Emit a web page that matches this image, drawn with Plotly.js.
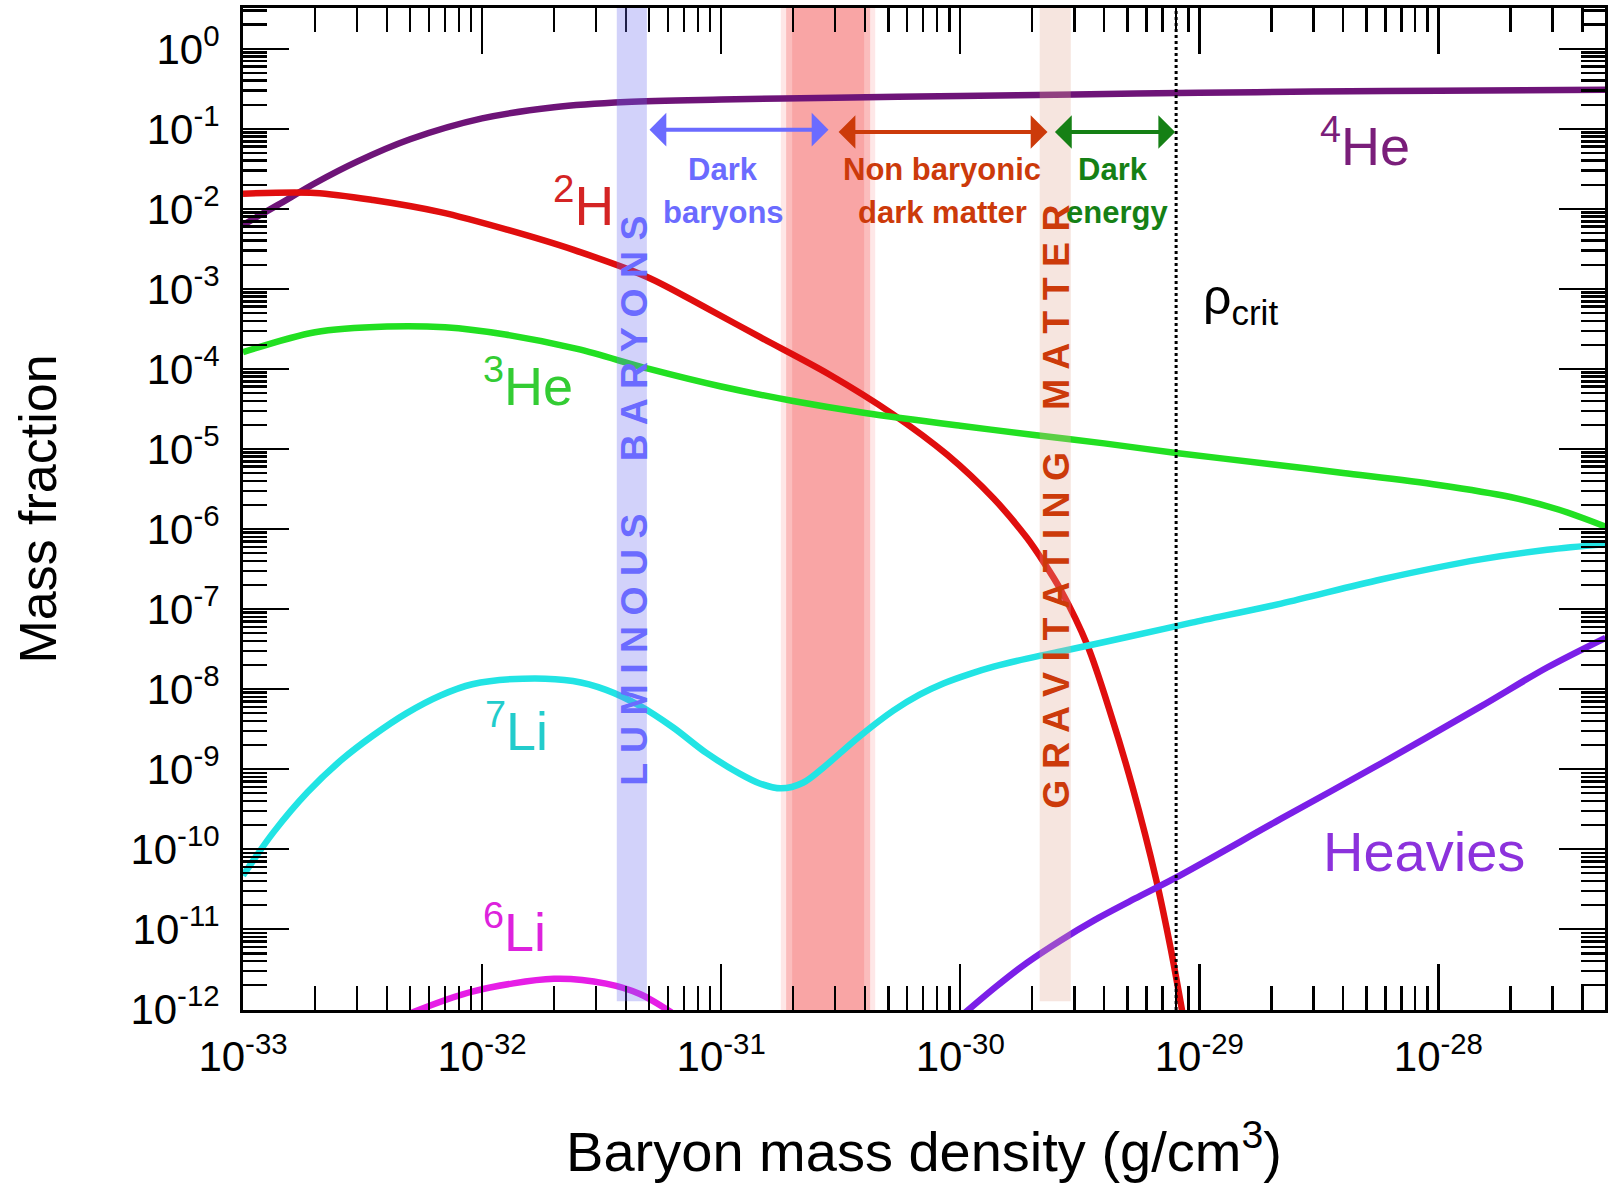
<!DOCTYPE html>
<html>
<head>
<meta charset="utf-8">
<script src="https://cdn.plot.ly/plotly-3.0.1.min.js"></script>
<style>html,body{margin:0;padding:0;background:#fff;}</style>
</head>
<body>
<div id="chart" style="width:1612px;height:1185px;"></div>
<script>
// ---------------- DATA ----------------
// Baryon mass density (g/cm^3) and mass fraction for each nuclide
const he4Rho  = [1e-33, 1.4e-33, 2e-33, 3e-33, 5e-33, 1e-32, 2e-32, 4e-32, 1e-31, 3e-31, 1e-30, 3e-30, 1e-29, 3e-29, 1e-28, 5e-28];
const he4Frac = [6.31e-3, 0.0112, 0.0209, 0.0389, 0.074, 0.135, 0.186, 0.216, 0.232, 0.245, 0.257, 0.269, 0.282, 0.292, 0.299, 0.309];

const h2Rho  = [1e-33, 2e-33, 3.5e-33, 6.7e-33, 1.27e-32, 2.4e-32, 4.9e-32, 8.7e-32, 1.45e-31, 2.8e-31, 5.2e-31, 8.8e-31, 1.38e-30, 1.9e-30, 2.24e-30, 2.63e-30, 3.4e-30, 4.27e-30, 5.25e-30, 6.6e-30, 7.6e-30, 8.5e-30];
const h2Frac = [0.0155, 0.0158, 0.0129, 9.1e-3, 5.5e-3, 3.09e-3, 1.41e-3, 5.75e-4, 2.51e-4, 8.71e-5, 2.75e-5, 8.51e-6, 2.4e-6, 7.76e-7, 3.8e-7, 1.74e-7, 3.55e-8, 4.79e-9, 6.03e-10, 4.17e-11, 5.62e-12, 9.1e-13];

const he3Rho  = [1e-33, 2e-33, 4e-33, 7e-33, 1.25e-32, 2.5e-32, 5e-32, 1e-31, 2e-31, 4e-31, 1e-30, 2e-30, 4e-30, 8e-30, 2e-29, 4e-29, 1e-28, 2e-28, 3.2e-28, 5e-28];
const he3Frac = [1.62e-4, 2.88e-4, 3.39e-4, 3.31e-4, 2.69e-4, 1.78e-4, 1.0e-4, 6.03e-5, 3.98e-5, 2.82e-5, 1.95e-5, 1.51e-5, 1.175e-5, 8.91e-6, 6.46e-6, 5.01e-6, 3.55e-6, 2.51e-6, 1.74e-6, 1.07e-6];

const li7Rho  = [1e-33, 1.34e-33, 1.86e-33, 2.57e-33, 3.5e-33, 4.84e-33, 6.7e-33, 9.1e-33, 1.48e-32, 2.4e-32, 3.3e-32, 4.57e-32, 6.3e-32, 8.7e-32, 1.2e-31, 1.45e-31, 1.78e-31, 2.2e-31, 2.75e-31, 3.8e-31, 5.25e-31, 6.76e-31, 8.5e-31, 1.1e-30, 1.38e-30, 1.9e-30, 2.63e-30, 5e-30, 9.3e-30, 2.2e-29, 5.75e-29, 1.5e-28, 2.85e-28, 5e-28];
const li7Frac = [4.68e-11, 1.62e-10, 5.13e-10, 1.29e-9, 2.63e-9, 5.01e-9, 8.32e-9, 1.15e-8, 1.35e-8, 1.26e-8, 9.77e-9, 6.17e-9, 3.31e-9, 1.58e-9, 8.71e-10, 6.61e-10, 5.75e-10, 6.76e-10, 1.12e-9, 2.57e-9, 5.37e-9, 8.51e-9, 1.175e-8, 1.55e-8, 1.905e-8, 2.4e-8, 2.95e-8, 4.47e-8, 6.76e-8, 1.17e-7, 2.34e-7, 4.17e-7, 5.5e-7, 6.46e-7];

const li6Rho  = [5.1e-33, 9.1e-33, 2e-32, 3.3e-32, 4.57e-32, 6.2e-32];
const li6Frac = [9.1e-13, 1.66e-12, 2.4e-12, 2.09e-12, 1.55e-12, 9.1e-13];

const heavyRho  = [1.05e-30, 1.41e-30, 1.9e-30, 2.63e-30, 3.63e-30, 5.37e-30, 7.94e-30, 2.2e-29, 5.75e-29, 1.5e-28, 2.85e-28, 5e-28];
const heavyFrac = [9.1e-13, 1.905e-12, 3.8e-12, 7.24e-12, 1.29e-11, 2.4e-11, 4.37e-11, 2.4e-10, 1.175e-9, 6.03e-9, 1.86e-8, 4.37e-8];

// Density bands and critical density (g/cm^3)
const luminousBand    = [3.66e-32, 4.89e-32];
const nonBaryonBand   = [1.87e-31, 4.2e-31];
const gravitatingBand = [2.15e-30, 2.9e-30];
const rhoCrit = 8.0e-30;

// Tick labels
const xTickVals = [1e-33, 1e-32, 1e-31, 1e-30, 1e-29, 1e-28];
const xTickExp  = ['-33', '-32', '-31', '-30', '-29', '-28'];
const yTickVals = [1, 1e-1, 1e-2, 1e-3, 1e-4, 1e-5, 1e-6, 1e-7, 1e-8, 1e-9, 1e-10, 1e-11, 1e-12];
const yTickExp  = ['0', '-1', '-2', '-3', '-4', '-5', '-6', '-7', '-8', '-9', '-10', '-11', '-12'];

// ---------------- CHART ----------------
const SANS = 'Liberation Sans, Arial, Helvetica, sans-serif';
const supTxt = (e) => '10<sup>' + e + '</sup>';

function minorTicks(k0, k1, maxVal) {
  const out = [];
  for (let k = k0; k <= k1; k++) {
    for (let d = 2; d <= 9; d++) {
      const v = d * Math.pow(10, k);
      if (v <= maxVal) out.push(v);
    }
  }
  return out;
}

function line(x, y, color) {
  return {x: x, y: y, type: 'scatter', mode: 'lines',
          line: {color: color, width: 6.5, shape: 'spline', smoothing: 0.9},
          hoverinfo: 'skip', showlegend: false, cliponaxis: true};
}

const traces = [
  line(he4Rho, he4Frac, '#6E1478'),
  line(h2Rho, h2Frac, '#E00E0E'),
  line(he3Rho, he3Frac, '#22E022'),
  line(li7Rho, li7Frac, '#22E4E4'),
  line(li6Rho, li6Frac, '#E61EE6'),
  line(heavyRho, heavyFrac, '#7B1FE8')
];

const yTop = 3.3, yBandBottom = 1.26e-12;
const shapes = [
  // non-baryonic band, soft edges
  {type: 'rect', xref: 'x', yref: 'paper', x0: nonBaryonBand[0] * 0.95, x1: nonBaryonBand[1] * 1.05, y0: 0, y1: 1,
   fillcolor: 'rgba(247,120,120,0.18)', line: {width: 0}, layer: 'below'},
  {type: 'rect', xref: 'x', yref: 'paper', x0: nonBaryonBand[0], x1: nonBaryonBand[1], y0: 0, y1: 1,
   fillcolor: 'rgba(247,120,120,0.38)', line: {width: 0}, layer: 'below'},
  {type: 'rect', xref: 'x', yref: 'paper', x0: nonBaryonBand[0] * 1.06, x1: nonBaryonBand[1] / 1.06, y0: 0, y1: 1,
   fillcolor: 'rgba(247,120,120,0.35)', line: {width: 0}, layer: 'below'},
  // luminous baryons band
  {type: 'rect', xref: 'x', yref: 'y', x0: luminousBand[0], x1: luminousBand[1], y0: yBandBottom, y1: yTop,
   fillcolor: 'rgba(105,105,238,0.3)', line: {width: 0}, layer: 'above'},
  // gravitating matter band
  {type: 'rect', xref: 'x', yref: 'y', x0: gravitatingBand[0], x1: gravitatingBand[1], y0: yBandBottom, y1: yTop,
   fillcolor: 'rgba(225,170,150,0.3)', line: {width: 0}, layer: 'above'},
  // critical density
  {type: 'line', xref: 'x', yref: 'paper', x0: rhoCrit, x1: rhoCrit, y0: 0, y1: 1,
   line: {color: '#000', width: 3, dash: 'dot'}, layer: 'above'}
];

function arrow(x0, x1, y, color) {
  return {xref: 'x', yref: 'y', axref: 'x', ayref: 'y', x: x1, y: y, ax: x0, ay: y,
          text: '', showarrow: true, arrowside: 'end+start', arrowhead: 1, startarrowhead: 1,
          arrowwidth: 4, arrowsize: 1.4, startarrowsize: 1.4, arrowcolor: color};
}
function label(x, y, text, size, color) {
  return {xref: 'x', yref: 'y', x: x, y: y, text: text, showarrow: false,
          xanchor: 'center', yanchor: 'middle', font: {family: SANS, size: size, color: color}};
}
function bold(x, y, text, color) {
  return {xref: 'x', yref: 'y', x: x, y: y, text: text, showarrow: false, xanchor: 'center', yanchor: 'middle',
          font: {family: SANS, size: 31, color: color, weight: 'bold'}};
}
const NB = '\u00a0';
const BLUE = '#6B6BFF', ORANGE = '#CC3A0A', GREEN = '#158015';
const L1 = -1.51, L2 = -2.045;
const annotations = [
  arrow(-31.306, -30.551, -1.01, BLUE),
  arrow(-30.515, -29.635, -1.04, ORANGE),
  arrow(-29.610, -29.101, -1.04, GREEN),
  bold(-30.992, L1, 'Dark', BLUE),
  bold(-30.992, L2, 'baryons', BLUE),
  bold(-30.076, L1, 'Non baryonic', ORANGE),
  bold(-30.076, L2, 'dark matter', ORANGE),
  bold(-29.36, L1, 'Dark', GREEN),
  bold(-29.345, L2, 'energy', GREEN),
  {xref: 'x', yref: 'y', x: -31.366, y: -5.65, textangle: -90, showarrow: false,
   text: 'L U M I N O U S' + NB + NB + NB + NB + NB + 'B A R Y O N S',
   font: {family: SANS, size: 37.5, color: BLUE, weight: 'bold'}},
  {xref: 'x', yref: 'y', x: -29.599, y: -5.72, textangle: -90, showarrow: false,
   text: 'G R A V I T A T I N G' + NB + NB + NB + NB + 'M A T T E R',
   font: {family: SANS, size: 37.5, color: ORANGE, weight: 'bold'}},
  label(-31.576, -1.91, '<sup>2</sup>H', 55, '#D42424'),
  label(-31.808, -4.165, '<sup>3</sup>He', 54, '#33CC33'),
  label(-28.306, -1.17, '<sup>4</sup>He', 54, '#7A1E7A'),
  label(-31.858, -8.47, '<sup>7</sup>Li', 54, '#22CCCC'),
  label(-31.866, -10.98, '<sup>6</sup>Li', 54, '#DD22DD'),
  label(-28.062, -10.03, 'Heavies', 56, '#8C32DC'),
  label(-28.827, -3.14, '\u03c1<sub>crit</sub>', 50, '#000')
];

const axisCommon = {
  type: 'log', tickmode: 'array', ticks: 'inside', ticklen: 46, tickwidth: 2.5, tickcolor: '#000',
  showline: true, linewidth: 3, linecolor: '#000', mirror: 'allticks',
  showgrid: false, zeroline: false, tickfont: {family: SANS, size: 42, color: '#000'}
};

const layout = {
  width: 1612, height: 1185,
  margin: {l: 243, r: 7, t: 8, b: 175},
  paper_bgcolor: '#ffffff', plot_bgcolor: '#ffffff',
  showlegend: false,
  font: {family: SANS, color: '#000'},
  xaxis: Object.assign({}, axisCommon, {
    range: [-33, -27.303],
    tickvals: xTickVals, ticktext: xTickExp.map(supTxt),
    ticklabelstandoff: 8,
    minor: {tickmode: 'array', tickvals: minorTicks(-33, -28, 5e-28), ticks: 'inside', ticklen: 24,
            tickwidth: 2.5, tickcolor: '#000', showgrid: false},
    title: {text: 'Baryon mass density (g/cm<sup>3</sup>)', font: {family: SANS, size: 56, color: '#000'}, standoff: 53}
  }),
  yaxis: Object.assign({}, axisCommon, {
    range: [-12.01, 0.51],
    tickvals: yTickVals, ticktext: yTickExp.map(supTxt),
    ticklabelstandoff: 12,
    minor: {tickmode: 'array', tickvals: minorTicks(-12, 0, 3.2), ticks: 'inside', ticklen: 24,
            tickwidth: 2.5, tickcolor: '#000', showgrid: false},
    title: {text: 'Mass fraction', font: {family: SANS, size: 52, color: '#000'}, standoff: 58}
  }),
  shapes: shapes,
  annotations: annotations
};

Plotly.newPlot('chart', traces, layout, {displayModeBar: false, staticPlot: true});
</script>
</body>
</html>
